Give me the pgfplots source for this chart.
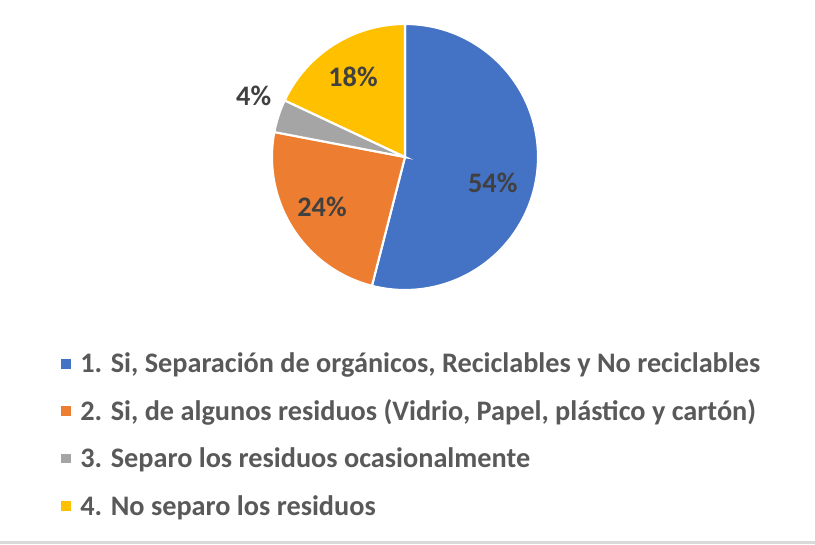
\documentclass[border=0pt]{standalone}
\usepackage{pgfplots}
\usepackage{pgfplotstable}
\pgfplotsset{compat=1.18}
\usepackage{fontspec}
\setmainfont{Carlito}

\definecolor{pieblue}{HTML}{4472C4}
\definecolor{pieorange}{HTML}{ED7D31}
\definecolor{piegray}{HTML}{A5A5A5}
\definecolor{pieyellow}{HTML}{FFC000}
\definecolor{labelgray}{HTML}{404040}
\definecolor{legendgray}{HTML}{595959}
\definecolor{stripgray}{HTML}{D9D9D9}

% share (percent), slice colour, label position (axis units, radius = 1)
\pgfplotstableread{
value color lx ly
54 pieblue 0.66 -0.195
24 pieorange -0.624 -0.376
4 piegray -1.138 0.462
18 pieyellow -0.391 0.602
}\piedata

\begin{document}
\begin{tikzpicture}
\path[use as bounding box] (0,0) rectangle (611.25pt,408pt);
\fill[stripgray] (0,0) rectangle (611.25pt,2.4pt);
\begin{axis}[
    at={(303.75pt,290.25pt)}, anchor=center,
    scale only axis,
    width=199.5pt, height=199.5pt,
    xmin=-1, xmax=1, ymin=-1, ymax=1,
    hide axis, clip=false,
    legend cell align=left,
    legend image code/.code={
        \fill[#1, draw=none] (0pt,-3.6pt) rectangle (7.2pt,3.6pt);
        \path[draw=none, fill=none] (0pt,0pt) -- (14.2pt,0pt);
    },
    legend style={
        at={(-0.7914,-0.2436)}, anchor=north west,
        draw=none, fill=none, inner sep=0pt, outer sep=0pt,
        row sep=22.2pt,
        font=\fontsize{21.2pt}{25pt}\selectfont\bfseries,
        text=legendgray,
        nodes={inner sep=0pt, text height=13.4pt, text depth=0pt},
    },
]
\def\startangle{90}
\pgfplotsforeachungrouped \i in {0,...,3} {
    \pgfplotstablegetelem{\i}{value}\of\piedata \let\val\pgfplotsretval
    \pgfplotstablegetelem{\i}{color}\of\piedata \let\col\pgfplotsretval
    \pgfplotstablegetelem{\i}{lx}\of\piedata \let\lx\pgfplotsretval
    \pgfplotstablegetelem{\i}{ly}\of\piedata \let\ly\pgfplotsretval
    \pgfmathsetmacro\endangle{\startangle - 3.6*\val}
    \edef\temp{\noexpand\fill[\col, draw=white, line width=1.6pt]
        (axis cs:0,0) -- (axis cs:{cos(\startangle)},{sin(\startangle)})
        arc[start angle=\startangle, end angle=\endangle, radius=99.75pt] -- cycle;}
    \temp
    \edef\temp{\noexpand\node[text=labelgray,
        font=\noexpand\fontsize{21.2pt}{25pt}\noexpand\selectfont\noexpand\bfseries]
        at (axis cs:\lx,\ly) {\val\noexpand\%};}
    \temp
    \global\let\startangle\endangle
}
\addlegendimage{pieblue}
\addlegendentry{1. Si, Separación de orgánicos, Reciclables y No reciclables}
\addlegendimage{pieorange}
\addlegendentry{2. Si, de algunos residuos (Vidrio, Papel, plástico y cartón)}
\addlegendimage{piegray}
\addlegendentry{3. Separo los residuos ocasionalmente}
\addlegendimage{pieyellow}
\addlegendentry{4. No separo los residuos}
\end{axis}
\end{tikzpicture}
\end{document}
